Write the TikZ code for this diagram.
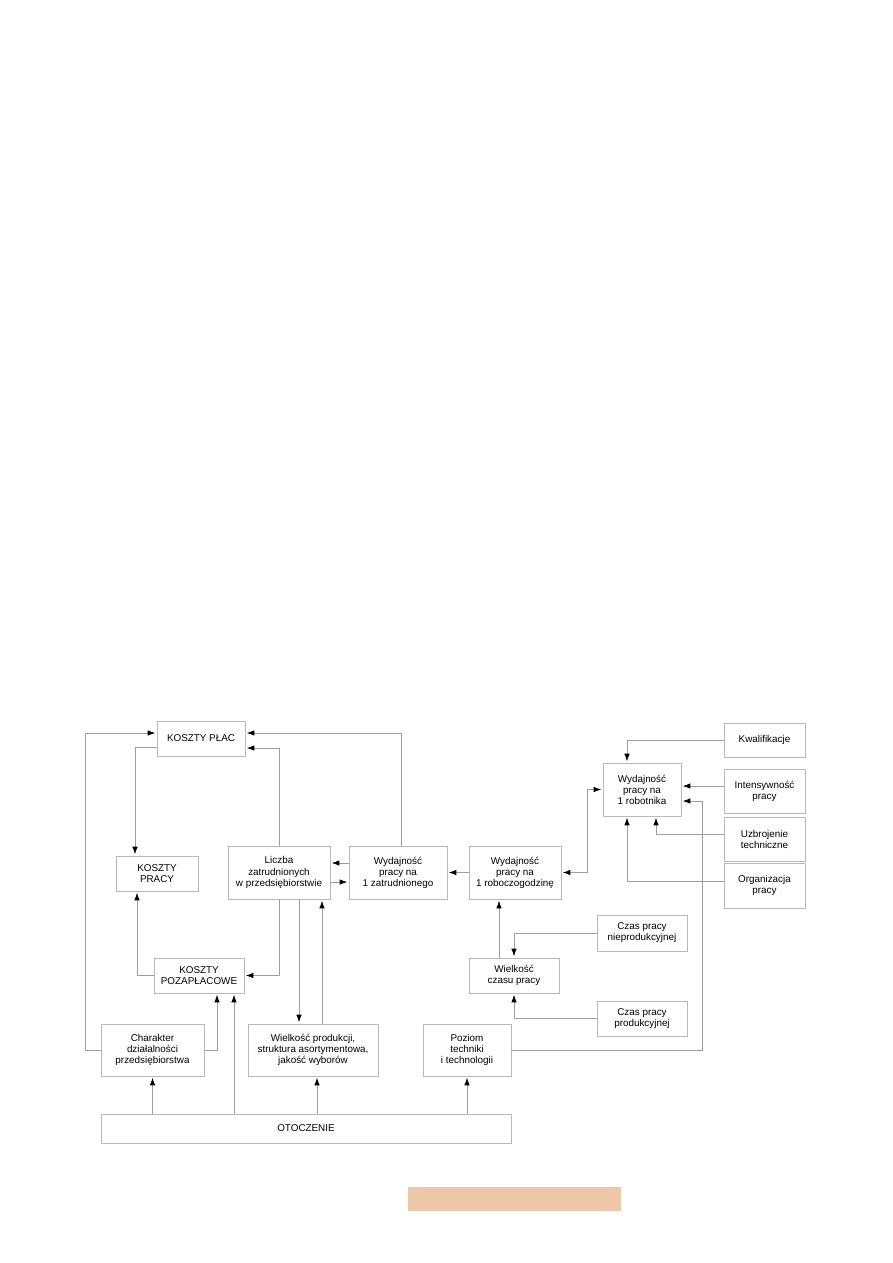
\documentclass[tikz,border=0pt]{standalone}
\usepackage{fontspec}
\setmainfont{Liberation Sans}
\usepackage{xcolor}
\usepackage{tikz}
\usetikzlibrary{arrows.meta, positioning}
\usetikzlibrary{calc}

\definecolor{footer}{RGB}{238,198,168}

\tikzset{
  box/.style 2 args={draw=gray!55, fill=white, align=center, inner sep=1pt,
    minimum width=#1*0.023516cm, minimum height=#2*0.023516cm,
    font=\fontsize{6.6}{7.4}\selectfont},
  arr/.style={draw=gray!75, line width=0.45pt, ->, shorten >=1pt}
}

\begin{document}
\begin{tikzpicture}[x=0.023516cm, y=-0.023516cm, >={Latex[color=black,length=5pt,width=3.6pt]}]

  \useasboundingbox (0,0) rectangle (893,1263);

  % ==== Left: labour costs ====

  \node[box={88}{35}] (kplac) at (201,738.5) {KOSZTY PŁAC};
  \node[box={82}{35}] (kpracy) at (157,873.5) {KOSZTY\\PRACY};
  \node[box={90}{35}] (pozapl) at (199,975.5) {KOSZTY\\POZAPŁACOWE};
  \node[box={102}{53}] (liczba) at (279,872.5) {Liczba\\zatrudnionych\\w przedsiębiorstwie};
  \node[box={98}{53}] (wzatr) at (398,872.5) {Wydajność\\pracy na\\1 zatrudnionego};
  \node[box={92}{53}] (wrobg) at (515,872.5) {Wydajność\\pracy na\\1 roboczogodzinę};

  % ==== Right: factors of productivity ====

  \node[box={78}{53}] (wrobot) at (642,789.5) {Wydajność\\pracy na\\1 robotnika};
  \node[box={81}{34}] (kwal) at (764.5,740) {Kwalifikacje};
  \node[box={81}{44}] (intens) at (764.5,791) {Intensywność\\pracy};
  \node[box={81}{44}] (uzbr) at (764.5,839) {Uzbrojenie\\techniczne};
  \node[box={81}{45}] (organ) at (764.5,885.5) {Organizacja\\pracy};
  \node[box={90}{35}] (wczasu) at (514,975.5) {Wielkość\\czasu pracy};
  \node[box={90}{36}] (czasnp) at (642,933) {Czas pracy\\nieprodukcyjnej};
  \node[box={90}{35}] (czasp) at (642,1018.5) {Czas pracy\\produkcyjnej};

  % ==== Bottom row ====

  \node[box={103}{52}] (charakter) at (152.5,1050) {Charakter\\działalności\\przedsiębiorstwa};
  \node[box={130}{52}] (wprod) at (313,1050) {Wielkość produkcji,\\struktura asortymentowa,\\jakość wyborów};
  \node[box={88}{52}] (poziom) at (467,1050) {Poziom\\techniki\\i technologii};
  \node[box={410}{29}] (otocz) at (306,1128.5) {OTOCZENIE};

  % Connections into KOSZTY PLAC
  \draw[arr] (charakter.west) -- ++(-15,0) |- ($(kplac.west)+(0,-5.5)$);
  \draw[arr] (liczba.north) |- ($(kplac.east)+(0,9.5)$);
  \draw[arr] ($(wzatr.north)+(3,0)$) |- ($(kplac.east)+(0,-5.5)$);

  % Costs
  \draw[arr] ($(kplac.west)+(0,8.5)$) -| ($(kpracy.north)+(-22,0)$);
  \draw[arr] (pozapl.west) -| ($(kpracy.south)+(-20,0)$);
  \draw[arr] (liczba.south) |- (pozapl.east);
  \draw[arr] (charakter.east) -| ($(pozapl.south)+(18,0)$);

  % Productivity chain
  \draw[arr] ($(wzatr.west)+(0,-9.5)$) -- ($(liczba.east)+(0,-9.5)$);
  \draw[arr] ($(liczba.east)+(0,9.5)$) -- ($(wzatr.west)+(0,9.5)$);
  \draw[arr] (wrobg.west) -- (wzatr.east);
  \draw[arr, <->, shorten <=1pt] (wrobg.east) -- ++(26,0) |- (wrobot.west);

  % Factors of 1 robotnik
  \draw[arr] (kwal.west) -| ($(wrobot.north)+(-15,0)$);
  \draw[arr] ($(intens.west)+(0,-5)$) coordinate (pi) -- (pi -| wrobot.east);
  \draw[arr] (poziom.east) -- ++(191,0) |- ($(wrobot.east)+(0,11.5)$);
  \draw[arr] ($(uzbr.west)+(0,-5)$) -| ($(wrobot.south)+(14,0)$);
  \draw[arr] ($(organ.west)+(0,-4.5)$) -| ($(wrobot.south)+(-15,0)$);

  % Working time
  \draw[arr] ($(wczasu.north)+(-15,0)$) coordinate (pw) -- (pw |- wrobg.south);
  \draw[arr] (czasnp.west) -| (wczasu.north);
  \draw[arr] (czasp.west) -| (wczasu.south);

  % Production volume
  \draw[arr] ($(liczba.south)+(20,0)$) coordinate (pl) -- (pl |- wprod.north);
  \draw[arr] ($(wprod.north)+(9,0)$) coordinate (pp) -- (pp |- liczba.south);

  % From OTOCZENIE
  \draw[arr] (otocz.north -| charakter.south) -- (charakter.south);
  \draw[arr] ($(pozapl.south)+(35,0)$) coordinate (po) ++(0,0) (po |- otocz.north) -- (po);
  \draw[arr] ($(wprod.south)+(4,0)$) coordinate (pr) ++(0,0) (pr |- otocz.north) -- (pr);
  \draw[arr] (otocz.north -| poziom.south) -- (poziom.south);

  % footer bar
  \fill[footer] (408,1187) rectangle (621,1211);
\end{tikzpicture}
\end{document}
